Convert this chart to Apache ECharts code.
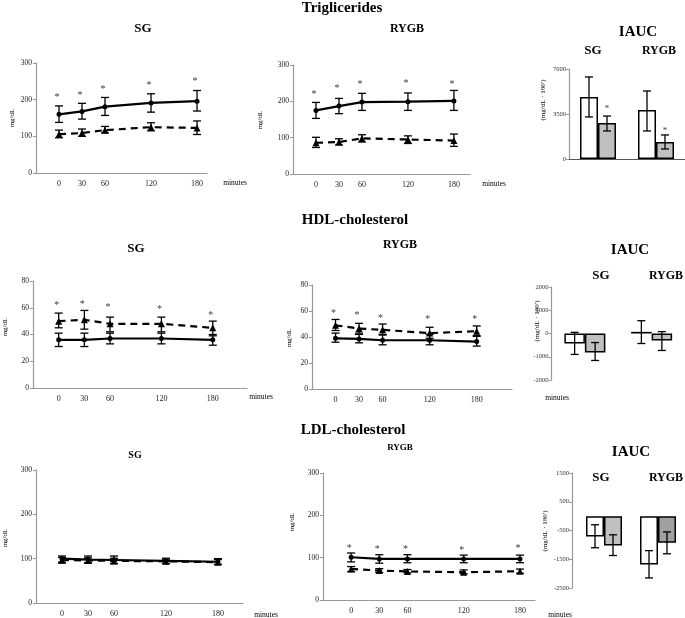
<!DOCTYPE html>
<html><head><meta charset="utf-8">
<script src="https://cdn.jsdelivr.net/npm/echarts@6/dist/echarts.min.js"></script>
<style>html,body{margin:0;padding:0;background:#fff}#c{width:685px;height:618px}</style>
</head><body><div id="c"></div>
<script>
// ---------- DATA ----------
const minutes = [0, 30, 60, 120, 180];
const minuteTicks = [0, 30, 60, 120, 180];

// Triglycerides SG
const tgSG_solid = [160, 168, 181, 191, 196];
const tgSG_solidLo = [138, 147, 157, 166, 169];
const tgSG_solidHi = [183, 190, 206, 216, 225];
const tgSG_dash = [106, 109, 117, 125, 123];
const tgSG_dashLo = [96, 100, 109, 115, 105];
const tgSG_dashHi = [117, 120, 127, 137, 142];
const tgSG_star = [213, 218, 234, 245, 254];
// Triglycerides RYGB
const tgRY_solid = [175, 187, 198, 199, 201];
const tgRY_solidLo = [153, 166, 175, 175, 175];
const tgRY_solidHi = [197, 208, 222, 223, 230];
const tgRY_dash = [86, 88, 98, 95, 92];
const tgRY_dashLo = [73, 80, 88, 84, 76];
const tgRY_dashHi = [101, 97, 108, 105, 110];
const tgRY_star = [226, 242, 253, 256, 253];
// HDL SG
const hdlSG_solid = [36, 36, 37, 37, 36];
const hdlSG_solidLo = [31, 31, 33, 33, 32];
const hdlSG_solidHi = [41, 41, 41, 41, 40];
const hdlSG_dash = [50, 51, 48, 48, 45];
const hdlSG_dashLo = [45, 44, 42, 42, 39];
const hdlSG_dashHi = [56, 58, 53, 53, 50];
const hdlSG_star = [63, 64, 62, 60, 56];
// HDL RYGB
const hdlRY_solid = [39, 38.5, 37.5, 37.5, 36.5];
const hdlRY_solidLo = [36, 35.5, 34, 34, 33];
const hdlRY_solidHi = [43, 42, 42, 42, 40.5];
const hdlRY_dash = [49, 46.5, 45.5, 43, 44.5];
const hdlRY_dashLo = [45, 43, 41.5, 39, 41];
const hdlRY_dashHi = [53.5, 50.5, 50, 47.5, 48.5];
const hdlRY_star = [60, 58, 56, 55, 55];
// LDL SG
const ldlSG_solid = [100, 98, 97, 95, 93];
const ldlSG_solidLo = [90, 90, 89, 89, 87];
const ldlSG_solidHi = [106, 106, 106, 101, 100];
const ldlSG_dash = [97, 96, 95, 94, 92];
const ldlSG_dashLo = [92, 90, 89, 89, 87];
const ldlSG_dashHi = [103, 102, 101, 99, 98];
const ldlSG_star = [];
// LDL RYGB
const ldlRY_solid = [101, 97, 97, 97, 97];
const ldlRY_solidLo = [90, 87, 88, 88, 88];
const ldlRY_solidHi = [111, 107, 107, 106, 106];
const ldlRY_dash = [73.5, 69.5, 67.5, 65.5, 68];
const ldlRY_dashLo = [67, 65, 64, 62, 63];
const ldlRY_dashHi = [79, 74, 72, 71, 73];
const ldlRY_star = [127, 124, 124, 123, 126];

// IAUC
const iaucGroups = ['SG', 'RYGB'];
const tgI_white = [4820, 3810], tgI_whiteLo = [3270, 2180], tgI_whiteHi = [6380, 5290];
const tgI_gray = [2800, 1320], tgI_grayLo = [2180, 780], tgI_grayHi = [3340, 1870];
const tgI_star = [4040, 2330];
const hdlI_white = [-430, 70], hdlI_whiteLo = [-900, -430], hdlI_whiteHi = [50, 550];
const hdlI_gray = [-820, -300], hdlI_grayLo = [-1160, -730], hdlI_grayHi = [-390, 80];
const ldlI_white = [-710, -1680], ldlI_whiteLo = [-1100, -2150], ldlI_whiteHi = [-300, -1200];
const ldlI_gray = [-1020, -930], ldlI_grayLo = [-1370, -1310], ldlI_grayHi = [-650, -550];

// ---------- BUILD ----------
const FONT = '"Liberation Serif","Times New Roman",serif';
const grids = [], xAxes = [], yAxes = [], series = [], graphics = [];
const plain = v => String(v);

function errRenderer(halfOff) {
  return function (params, api) {
    const side = api.value(3) || 0;
    const a = api.coord([api.value(0), api.value(1)]);
    const b = api.coord([api.value(0), api.value(2)]);
    const cx = a[0] + side * halfOff;
    const c = 4;
    const st = { stroke: '#000', lineWidth: 1.3 };
    return { type: 'group', children: [
      { type: 'line', shape: { x1: cx, y1: a[1], x2: cx, y2: b[1] }, style: st },
      { type: 'line', shape: { x1: cx - c, y1: a[1], x2: cx + c, y2: a[1] }, style: st },
      { type: 'line', shape: { x1: cx - c, y1: b[1], x2: cx + c, y2: b[1] }, style: st }
    ]};
  };
}

function linePanel(p) {
  const gi = grids.length;
  grids.push({ left: p.left, top: p.top, width: p.width, height: p.height });
  xAxes.push({
    gridIndex: gi, type: 'value', min: p.xmin, max: p.xmax,
    axisLine: { show: true, onZero: false, lineStyle: { color: '#999', width: 1.2 } },
    axisTick: { show: false }, splitLine: { show: false },
    axisLabel: { customValues: minuteTicks, fontSize: 8, fontFamily: FONT, color: '#222', margin: 7 }
  });
  yAxes.push({
    gridIndex: gi, type: 'value', min: p.ymin, max: p.ymax, interval: p.interval,
    axisLine: { show: true, onZero: false, lineStyle: { color: '#999', width: 1.2 } },
    axisTick: { show: true, length: 3, lineStyle: { color: '#999' } },
    splitLine: { show: false },
    axisLabel: { fontSize: 7.5, fontFamily: FONT, color: '#222', margin: 4, formatter: plain }
  });
  const pts = arr => minutes.map((m, i) => [m, arr[i]]);
  const err = (lo, hi) => minutes.map((m, i) => [m, lo[i], hi[i], 0]);
  series.push({
    type: 'line', xAxisIndex: gi, yAxisIndex: gi, data: pts(p.solid),
    symbol: 'circle', symbolSize: 5, lineStyle: { color: '#000', width: 2.2 },
    itemStyle: { color: '#000' }, animation: false, z: 3
  });
  series.push({
    type: 'line', xAxisIndex: gi, yAxisIndex: gi, data: pts(p.dash),
    symbol: 'triangle', symbolSize: 7, lineStyle: { color: '#000', width: 2.2, type: [7, 5] },
    itemStyle: { color: '#000' }, animation: false, z: 3
  });
  series.push({
    type: 'custom', xAxisIndex: gi, yAxisIndex: gi, renderItem: errRenderer(0),
    data: err(p.solidLo, p.solidHi).concat(err(p.dashLo, p.dashHi)),
    encode: { x: 0, y: [1, 2] }, animation: false, z: 4
  });
  if (p.star.length) {
    series.push({
      type: 'scatter', xAxisIndex: gi, yAxisIndex: gi, data: pts(p.star),
      symbolSize: 1, itemStyle: { color: 'transparent' }, animation: false,
      label: { show: true, formatter: '*', position: 'inside', offset: [-2, 2], fontSize: 10, color: '#000', fontFamily: FONT }
    });
  }
  graphics.push(txt(p.minX, p.minY, 'minutes', 7.5, false, 0));
  graphics.push(txt(p.nameX, p.nameY, 'mg/dL', 7, false, Math.PI / 2));
}

function iaucPanel(p) {
  const gi = grids.length;
  grids.push({ left: p.left, top: p.top, width: p.width, height: p.height });
  xAxes.push({
    gridIndex: gi, type: 'category', data: iaucGroups,
    axisLine: { show: p.showX, lineStyle: { color: '#555', width: 1.2 } },
    axisTick: { show: false }, axisLabel: { show: false }, splitLine: { show: false }
  });
  yAxes.push({
    gridIndex: gi, type: 'value', min: p.ymin, max: p.ymax, interval: p.interval, offset: p.yOffset || 0,
    axisLine: { show: true, onZero: false, lineStyle: { color: '#999', width: 1.2 } },
    axisTick: { show: true, length: 3, lineStyle: { color: '#999' } },
    splitLine: { show: false },
    axisLabel: { fontSize: 6.5, fontFamily: FONT, color: '#333', margin: 3, formatter: plain }
  });
  const bw = p.barW;
  series.push({
    type: 'bar', xAxisIndex: gi, yAxisIndex: gi, data: p.white, barWidth: bw, barGap: '0%',
    itemStyle: { color: '#fff', borderColor: '#000', borderWidth: 1.5 }, animation: false
  });
  series.push({
    type: 'bar', xAxisIndex: gi, yAxisIndex: gi,
    data: p.gray.map((v, i) => ({ value: v, itemStyle: { color: p.grayColors[i] } })),
    barWidth: bw, barGap: '0%',
    itemStyle: { color: '#c0c0c0', borderColor: '#000', borderWidth: 1.5 }, animation: false
  });
  const err = [];
  p.white.forEach((v, i) => err.push([i, p.whiteLo[i], p.whiteHi[i], -1]));
  p.gray.forEach((v, i) => err.push([i, p.grayLo[i], p.grayHi[i], 1]));
  series.push({
    type: 'custom', xAxisIndex: gi, yAxisIndex: gi, renderItem: errRenderer(bw / 2),
    data: err, encode: { x: 0, y: [1, 2] }, animation: false, z: 5
  });
  if (p.star) {
    series.push({
      type: 'scatter', xAxisIndex: gi, yAxisIndex: gi, data: p.star.map((v, i) => [i, v]),
      symbolSize: 1, itemStyle: { color: 'transparent' }, animation: false,
      label: { show: true, formatter: '*', position: 'inside', offset: [bw / 2, 2], fontSize: 9, color: '#000', fontFamily: FONT }
    });
  }
  graphics.push(txt(p.nameX, p.nameY, "(mg/dL \u00B7 180')", 7, false, Math.PI / 2));
}

function txt(x, y, s, size, bold, rot) {
  return { type: 'text', x: x, y: y, rotation: rot || 0, z: 10,
    style: { text: s, fontSize: size, fontWeight: bold ? 'bold' : 'normal', fontFamily: FONT,
      fill: '#000', align: 'center', verticalAlign: 'middle' } };
}

// Row 1 — Triglycerides
linePanel({ left: 36, top: 63, width: 171, height: 110, xmin: -30, xmax: 193, ymin: 0, ymax: 300, interval: 100,
  solid: tgSG_solid, solidLo: tgSG_solidLo, solidHi: tgSG_solidHi, dash: tgSG_dash, dashLo: tgSG_dashLo, dashHi: tgSG_dashHi,
  star: tgSG_star, minX: 235, minY: 183, nameX: 12, nameY: 118 });
linePanel({ left: 293, top: 65, width: 177, height: 109, xmin: -30, xmax: 201, ymin: 0, ymax: 300, interval: 100,
  solid: tgRY_solid, solidLo: tgRY_solidLo, solidHi: tgRY_solidHi, dash: tgRY_dash, dashLo: tgRY_dashLo, dashHi: tgRY_dashHi,
  star: tgRY_star, minX: 494, minY: 184, nameX: 260, nameY: 120 });
iaucPanel({ left: 569, top: 69, width: 127, height: 90, ymin: 0, ymax: 7000, interval: 3500, barW: 18, showX: true,
  white: tgI_white, whiteLo: tgI_whiteLo, whiteHi: tgI_whiteHi, gray: tgI_gray, grayLo: tgI_grayLo, grayHi: tgI_grayHi,
  grayColors: ['#c0c0c0', '#c0c0c0'], star: tgI_star, nameX: 543, nameY: 100 });

// Row 2 — HDL
linePanel({ left: 33, top: 281, width: 214, height: 107, xmin: -30, xmax: 220, ymin: 0, ymax: 80, interval: 20,
  solid: hdlSG_solid, solidLo: hdlSG_solidLo, solidHi: hdlSG_solidHi, dash: hdlSG_dash, dashLo: hdlSG_dashLo, dashHi: hdlSG_dashHi,
  star: hdlSG_star, minX: 261, minY: 397, nameX: 5, nameY: 327 });
linePanel({ left: 312, top: 285, width: 200, height: 104, xmin: -30, xmax: 225, ymin: 0, ymax: 80, interval: 20,
  solid: hdlRY_solid, solidLo: hdlRY_solidLo, solidHi: hdlRY_solidHi, dash: hdlRY_dash, dashLo: hdlRY_dashLo, dashHi: hdlRY_dashHi,
  star: hdlRY_star, minX: 557, minY: 398, nameX: 289, nameY: 338 });
iaucPanel({ left: 551.5, top: 287, width: 142, height: 93, ymin: -2000, ymax: 2000, interval: 1000, barW: 20.5, showX: false,
  white: hdlI_white, whiteLo: hdlI_whiteLo, whiteHi: hdlI_whiteHi, gray: hdlI_gray, grayLo: hdlI_grayLo, grayHi: hdlI_grayHi,
  grayColors: ['#c0c0c0', '#c0c0c0'], star: null, nameX: 537, nameY: 321 });

// Row 3 — LDL
linePanel({ left: 36, top: 470, width: 207, height: 133, xmin: -30, xmax: 209, ymin: 0, ymax: 300, interval: 100,
  solid: ldlSG_solid, solidLo: ldlSG_solidLo, solidHi: ldlSG_solidHi, dash: ldlSG_dash, dashLo: ldlSG_dashLo, dashHi: ldlSG_dashHi,
  star: ldlSG_star, minX: 266, minY: 615, nameX: 5, nameY: 538 });
linePanel({ left: 323, top: 473, width: 212, height: 127, xmin: -30, xmax: 196, ymin: 0, ymax: 300, interval: 100,
  solid: ldlRY_solid, solidLo: ldlRY_solidLo, solidHi: ldlRY_solidHi, dash: ldlRY_dash, dashLo: ldlRY_dashLo, dashHi: ldlRY_dashHi,
  star: ldlRY_star, minX: 560, minY: 615, nameX: 292, nameY: 522 });
iaucPanel({ left: 577, top: 473, width: 108, height: 115, ymin: -2500, ymax: 1500, interval: 1000, barW: 18, showX: false, yOffset: 5,
  white: ldlI_white, whiteLo: ldlI_whiteLo, whiteHi: ldlI_whiteHi, gray: ldlI_gray, grayLo: ldlI_grayLo, grayHi: ldlI_grayHi,
  grayColors: ['#c0c0c0', '#a0a0a0'], star: null, nameX: 545, nameY: 531 });

// Titles
graphics.push(txt(342, 8, 'Triglicerides', 15, true));
graphics.push(txt(143, 29, 'SG', 13, true));
graphics.push(txt(407, 29, 'RYGB', 12, true));
graphics.push(txt(638, 32, 'IAUC', 15, true));
graphics.push(txt(593, 51, 'SG', 13, true));
graphics.push(txt(659, 51, 'RYGB', 12, true));

graphics.push(txt(355, 220, 'HDL-cholesterol', 15, true));
graphics.push(txt(136, 249, 'SG', 13, true));
graphics.push(txt(400, 245, 'RYGB', 12, true));
graphics.push(txt(630, 250, 'IAUC', 15, true));
graphics.push(txt(601, 276, 'SG', 13, true));
graphics.push(txt(666, 276, 'RYGB', 12, true));

graphics.push(txt(353, 430, 'LDL-cholesterol', 15, true));
graphics.push(txt(135, 455, 'SG', 10, true));
graphics.push(txt(400, 448, 'RYGB', 9, true));
graphics.push(txt(631, 452, 'IAUC', 15, true));
graphics.push(txt(601, 478, 'SG', 13, true));
graphics.push(txt(666, 478, 'RYGB', 12, true));

const chart = echarts.init(document.getElementById('c'), null, { renderer: 'canvas' });
chart.setOption({
  animation: false, backgroundColor: '#fff',
  grid: grids, xAxis: xAxes, yAxis: yAxes, series: series, graphic: graphics
});
</script></body></html>
